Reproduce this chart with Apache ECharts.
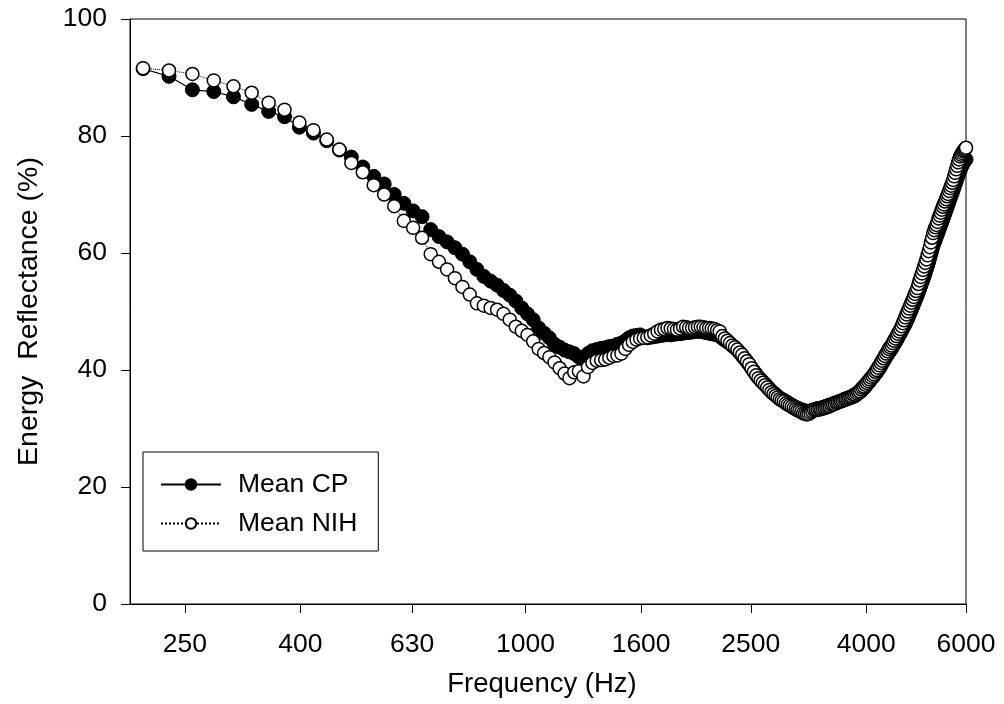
<!DOCTYPE html>
<html>
<head>
<meta charset="utf-8">
<script src="https://cdn.jsdelivr.net/npm/echarts@6/dist/echarts.min.js"></script>
<style>
  html, body { margin: 0; padding: 0; background: #fff; }
  #chart { width: 1004px; height: 704px; }
</style>
</head>
<body>
<div id="chart"></div>
<script>
// FFT bin grid of the measurement (bin index * bin width in Hz)
const binWidthHz = 23.4375;
const firstBin = 9;

// x-axis tick labels (Hz)
const xTickValues = [250, 400, 630, 1000, 1600, 2500, 4000, 6000];

// Mean CP energy reflectance (%), one value per bin starting at firstBin
const meanCP = [
  91.5, 90.2, 87.9, 87.6, 86.7, 85.4, 84.2, 83.3, 81.5, 80.5,
  79.2, 77.6, 76.4, 74.7, 73.1, 71.8, 70.0, 68.5, 67.2, 66.2,
  64.0, 62.8, 61.9, 60.9, 59.8, 58.5, 57.2, 56.0, 55.2, 54.5,
  53.6, 52.8, 51.8, 50.6, 49.6, 48.6, 47.2, 46.3, 45.5, 44.4,
  43.9, 43.4, 43.1, 42.8, 42.2, 41.8, 42.8, 43.3, 43.5, 43.7,
  43.8, 44.0, 44.1, 44.4, 44.6, 45.0, 45.5, 45.8, 45.9, 46.0,
  45.7, 45.5, 45.6, 45.7, 45.8, 45.9, 46.0, 46.1, 46.0, 46.1,
  46.2, 46.2, 46.3, 46.4, 46.4, 46.5, 46.6, 46.6, 46.6, 46.5,
  46.4, 46.3, 46.2, 46.1, 46.0, 45.8, 45.4, 45.1, 44.8, 44.5,
  44.1, 43.8, 43.4, 42.9, 42.4, 41.9, 41.4, 40.9, 40.3, 39.8,
  39.3, 38.8, 38.4, 38.0, 37.6, 37.2, 36.8, 36.4, 36.1, 35.8,
  35.5, 35.2, 35.0, 34.8, 34.6, 34.4, 34.2, 34.0, 33.8, 33.6,
  33.5, 33.3, 33.2, 33.1, 33.0, 32.9, 32.9, 33.0, 33.1, 33.2,
  33.3, 33.4, 33.4, 33.5, 33.6, 33.7, 33.8, 33.9, 34.0, 34.1,
  34.2, 34.3, 34.4, 34.5, 34.6, 34.7, 34.8, 34.9, 35.0, 35.1,
  35.2, 35.3, 35.4, 35.5, 35.6, 35.8, 36.0, 36.2, 36.4, 36.7,
  36.9, 37.2, 37.5, 37.8, 38.1, 38.4, 38.7, 39.0, 39.3, 39.6,
  40.0, 40.3, 40.7, 41.1, 41.5, 41.9, 42.3, 42.6, 43.0, 43.3,
  43.6, 44.0, 44.4, 44.7, 45.1, 45.5, 45.9, 46.3, 46.7, 47.1,
  47.5, 47.9, 48.4, 48.8, 49.3, 49.8, 50.3, 50.8, 51.3, 51.8,
  52.3, 52.8, 53.3, 53.9, 54.4, 55.0, 55.5, 56.1, 56.7, 57.3,
  57.9, 58.5, 59.2, 59.9, 60.6, 61.3, 61.8, 62.3, 62.8, 63.3,
  63.8, 64.3, 64.8, 65.3, 65.8, 66.3, 66.8, 67.3, 67.8, 68.3,
  68.8, 69.3, 69.8, 70.3, 70.8, 71.3, 71.8, 72.3, 72.8, 73.3,
  73.8, 74.2, 74.6, 75.0, 75.3, 75.6, 75.8, 76.0
];

// Mean NIH energy reflectance (%), one value per bin starting at firstBin
const meanNIH = [
  91.6, 91.2, 90.6, 89.5, 88.5, 87.4, 85.7, 84.5, 82.3, 81.0,
  79.4, 77.7, 75.4, 73.8, 71.6, 70.0, 68.0, 65.5, 64.3, 62.6,
  59.8, 58.5, 57.2, 55.7, 54.2, 52.9, 51.4, 51.0, 50.6, 50.3,
  49.6, 48.6, 47.4, 46.7, 46.0, 44.9, 43.6, 42.9, 42.2, 41.3,
  40.3, 39.4, 38.6, 39.6, 39.8, 38.9, 40.5, 41.2, 41.6, 41.7,
  41.8, 42.1, 42.4, 42.5, 42.8, 43.6, 44.3, 44.8, 45.2, 45.4,
  45.5, 45.6, 45.9, 46.2, 46.6, 46.9, 47.0, 47.2, 47.1, 47.0,
  46.9, 47.1, 47.4, 47.3, 47.2, 47.2, 47.3, 47.4, 47.4, 47.3,
  47.2, 47.2, 47.1, 47.0, 46.8, 46.6, 45.8, 45.4, 45.0, 44.6,
  44.2, 43.9, 43.5, 43.0, 42.6, 42.0, 41.5, 41.0, 40.3, 39.7,
  39.1, 38.6, 38.2, 37.8, 37.4, 37.0, 36.6, 36.2, 35.9, 35.6,
  35.3, 35.0, 34.8, 34.6, 34.3, 34.1, 33.9, 33.7, 33.5, 33.3,
  33.1, 33.0, 32.8, 32.6, 32.5, 32.4, 32.5, 32.7, 32.9, 33.1,
  33.2, 33.2, 33.3, 33.3, 33.4, 33.5, 33.6, 33.7, 33.8, 34.0,
  34.1, 34.2, 34.4, 34.5, 34.6, 34.7, 34.8, 35.0, 35.1, 35.2,
  35.3, 35.4, 35.5, 35.7, 35.8, 36.0, 36.2, 36.4, 36.7, 37.0,
  37.2, 37.5, 37.8, 38.1, 38.4, 38.7, 39.0, 39.3, 39.7, 40.0,
  40.4, 40.8, 41.2, 41.6, 42.0, 42.4, 42.8, 43.2, 43.6, 43.9,
  44.2, 44.6, 45.0, 45.4, 45.8, 46.2, 46.6, 47.0, 47.5, 48.0,
  48.5, 49.0, 49.5, 50.0, 50.5, 51.0, 51.5, 52.0, 52.5, 53.0,
  53.5, 54.0, 54.7, 55.3, 55.9, 56.5, 57.1, 57.7, 58.3, 58.9,
  59.6, 60.3, 61.0, 61.8, 62.6, 63.4, 63.9, 64.4, 64.8, 65.3,
  65.9, 66.4, 66.9, 67.4, 67.9, 68.3, 68.8, 69.2, 69.7, 70.1,
  70.6, 71.1, 71.5, 72.0, 72.5, 73.1, 73.7, 74.3, 74.9, 75.5,
  76.0, 76.5, 76.8, 77.1, 77.4, 77.6, 77.8, 78.0
];

const freqs = meanCP.map((_, i) => (firstBin + i) * binWidthHz);
const cpData = freqs.map((f, i) => [f, meanCP[i]]);
const nihData = freqs.map((f, i) => [f, meanNIH[i]]);

const FONT = '"Liberation Sans", Arial, sans-serif';
const chart = echarts.init(document.getElementById('chart'), null, { renderer: 'canvas' });

chart.setOption({
  animation: false,
  backgroundColor: '#fff',
  grid: {
    left: 130, right: 38, top: 19, bottom: 100,
    show: true, borderColor: '#000', borderWidth: 1, backgroundColor: 'transparent'
  },
  legend: {
    orient: 'vertical',
    left: 143, top: 452,
    padding: [19, 21, 14, 17],
    itemGap: 12,
    itemWidth: 60,
    itemHeight: 13,
    borderColor: '#000',
    borderWidth: 1,
    borderRadius: 0,
    backgroundColor: '#fff',
    textStyle: { fontFamily: FONT, fontSize: 26.5, color: '#000', padding: [0, 0, 0, 12] },
    data: ['Mean CP', 'Mean NIH']
  },
  xAxis: {
    type: 'log',
    logBase: 10,
    min: 200,
    max: 6000,
    name: 'Frequency (Hz)',
    nameLocation: 'middle',
    nameGap: 66,
    nameTextStyle: { fontFamily: FONT, fontSize: 27.5, color: '#000', padding: [0, 12, 0, 0] },
    axisLine: { show: true, lineStyle: { color: '#000', width: 1 } },
    axisTick: { show: true, inside: false, length: 9, lineStyle: { color: '#000' }, customValues: xTickValues },
    axisLabel: { show: true, fontFamily: FONT, fontSize: 26.5, color: '#000', margin: 27, customValues: xTickValues,
                 formatter: v => String(Math.round(v)) },
    minorTick: { show: false },
    splitLine: { show: false }
  },
  yAxis: {
    type: 'value',
    min: 0, max: 100, interval: 20,
    name: 'Energy  Reflectance (%)',
    nameLocation: 'middle',
    nameGap: 86,
    nameTextStyle: { fontFamily: FONT, fontSize: 28.5, color: '#000' },
    axisLine: { show: true, lineStyle: { color: '#000', width: 1 } },
    axisTick: { show: true, inside: false, length: 9, lineStyle: { color: '#000' } },
    axisLabel: { fontFamily: FONT, fontSize: 26.5, color: '#000', margin: 23 },
    splitLine: { show: false }
  },
  series: [
    {
      name: 'Mean CP',
      type: 'line',
      data: cpData,
      z: 2,
      symbol: 'circle',
      symbolSize: 14,
      showAllSymbol: true,
      itemStyle: { color: '#000', borderColor: '#000', borderWidth: 1 },
      lineStyle: { color: '#000', width: 1.2, type: 'solid' }
    },
    {
      name: 'Mean NIH',
      type: 'line',
      data: nihData,
      z: 3,
      symbol: 'circle',
      symbolSize: 13,
      showAllSymbol: true,
      itemStyle: { color: '#fff', borderColor: '#000', borderWidth: 1.5 },
      lineStyle: { color: '#000', width: 1, type: 'dotted' }
    }
  ]
});
</script>
</body>
</html>
